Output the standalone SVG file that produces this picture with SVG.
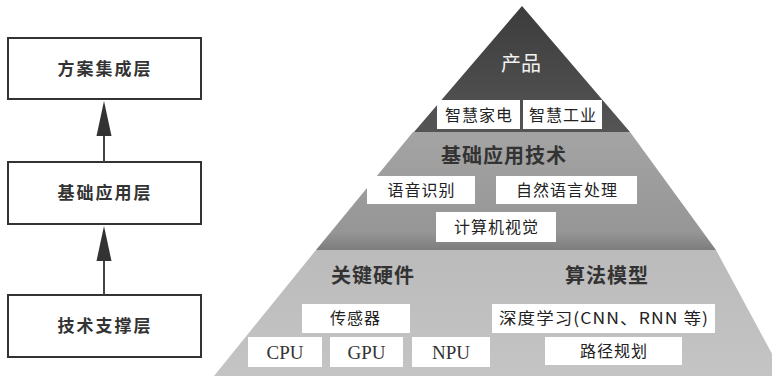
<svg xmlns="http://www.w3.org/2000/svg" width="772" height="376" viewBox="0 0 772 376">
<defs>
<style>
.box{fill:#fff;stroke:#333;stroke-width:2}
.lbl{font-family:"Noto Sans CJK SC","Noto Sans",sans-serif;font-size:17px;font-weight:bold;fill:#333;text-anchor:middle;letter-spacing:2px}
.title{font-family:"Noto Sans CJK SC","Noto Sans",sans-serif;font-size:20px;font-weight:bold;fill:#333;text-anchor:middle;letter-spacing:1px}
.wb{fill:#fff}
.it{font-family:"Noto Sans CJK SC","Noto Sans",sans-serif;font-size:16px;fill:#222;text-anchor:middle;letter-spacing:1px}
.ser{font-family:"Liberation Serif","Times New Roman",serif;font-size:19px;fill:#333;text-anchor:middle}
.conn{stroke:#444;stroke-width:2;fill:none}
.head{fill:#333}
</style>
<linearGradient id="gTop" x1="0" y1="0" x2="0" y2="1">
<stop offset="0" stop-color="#3c3c3c"/>
<stop offset="1" stop-color="#555"/>
</linearGradient>
<linearGradient id="gMid" x1="0" y1="0" x2="0" y2="1">
<stop offset="0" stop-color="#a4a4a4"/>
<stop offset="0.85" stop-color="#969696"/>
<stop offset="1" stop-color="#7c7c7c"/>
</linearGradient>
<linearGradient id="gBot" x1="0" y1="0" x2="0" y2="1">
<stop offset="0" stop-color="#bbbbbb"/>
<stop offset="1" stop-color="#c4c4c4"/>
</linearGradient>
</defs>
<rect width="772" height="376" fill="#fff"/>

<g id="layer-solution">
<rect class="box" x="8" y="38" width="193" height="61"/>
<text class="lbl" x="105" y="75">方案集成层</text>
</g>
<g id="layer-basic">
<rect class="box" x="8" y="162" width="193" height="62"/>
<text class="lbl" x="105" y="199">基础应用层</text>
</g>
<g id="layer-tech">
<rect class="box" x="8" y="295" width="193" height="62"/>
<text class="lbl" x="105" y="332">技术支撑层</text>
</g>
<g id="connectors">
<line class="conn" x1="104" y1="162" x2="104" y2="130"/>
<polygon class="head" points="104,101 96.5,136 111.5,136"/>
<line class="conn" x1="104" y1="295" x2="104" y2="255"/>
<polygon class="head" points="104,226 96.5,261 111.5,261"/>
</g>

<g id="pyramid-top">
<polygon points="522,6 414,132 630,132" fill="url(#gTop)"/>
<text x="521" y="71" font-family="Noto Sans CJK SC, sans-serif" font-size="20" fill="#f2f2f2" text-anchor="middle">产品</text>
<rect class="wb" x="437" y="100" width="83" height="29"/>
<text class="it" x="479" y="121">智慧家电</text>
<rect class="wb" x="523" y="100" width="79" height="29"/>
<text class="it" x="563" y="121">智慧工业</text>
</g>

<g id="pyramid-middle">
<polygon points="413,132 630,132 716,250 316,250" fill="url(#gMid)"/>
<text class="title" x="504" y="163">基础应用技术</text>
<rect class="wb" x="367" y="176" width="108" height="28"/>
<text class="it" x="421.5" y="196">语音识别</text>
<rect class="wb" x="496" y="176" width="141" height="28"/>
<text class="it" x="567" y="196">自然语言处理</text>
<rect class="wb" x="436" y="212" width="120" height="30"/>
<text class="it" x="496.5" y="233">计算机视觉</text>
</g>

<g id="pyramid-bottom">
<polygon points="316,250 716,250 784,376 214,376" fill="url(#gBot)"/>
<text class="title" x="373" y="283">关键硬件</text>
<text class="title" x="607" y="283">算法模型</text>
<rect class="wb" x="302" y="304" width="108" height="29"/>
<text class="it" x="355.5" y="324">传感器</text>
<rect class="wb" x="492" y="304" width="223" height="29"/>
<text class="it" x="604" y="324" textLength="210" lengthAdjust="spacingAndGlyphs">深度学习(CNN、RNN 等)</text>
<rect class="wb" x="248" y="337" width="74" height="30"/>
<text class="ser" x="285" y="359">CPU</text>
<rect class="wb" x="330" y="337" width="73" height="30"/>
<text class="ser" x="366.5" y="359">GPU</text>
<rect class="wb" x="412" y="337" width="78" height="30"/>
<text class="ser" x="451" y="359">NPU</text>
<rect class="wb" x="545" y="337" width="137" height="28"/>
<text class="it" x="614" y="357">路径规划</text>
</g>
</svg>
